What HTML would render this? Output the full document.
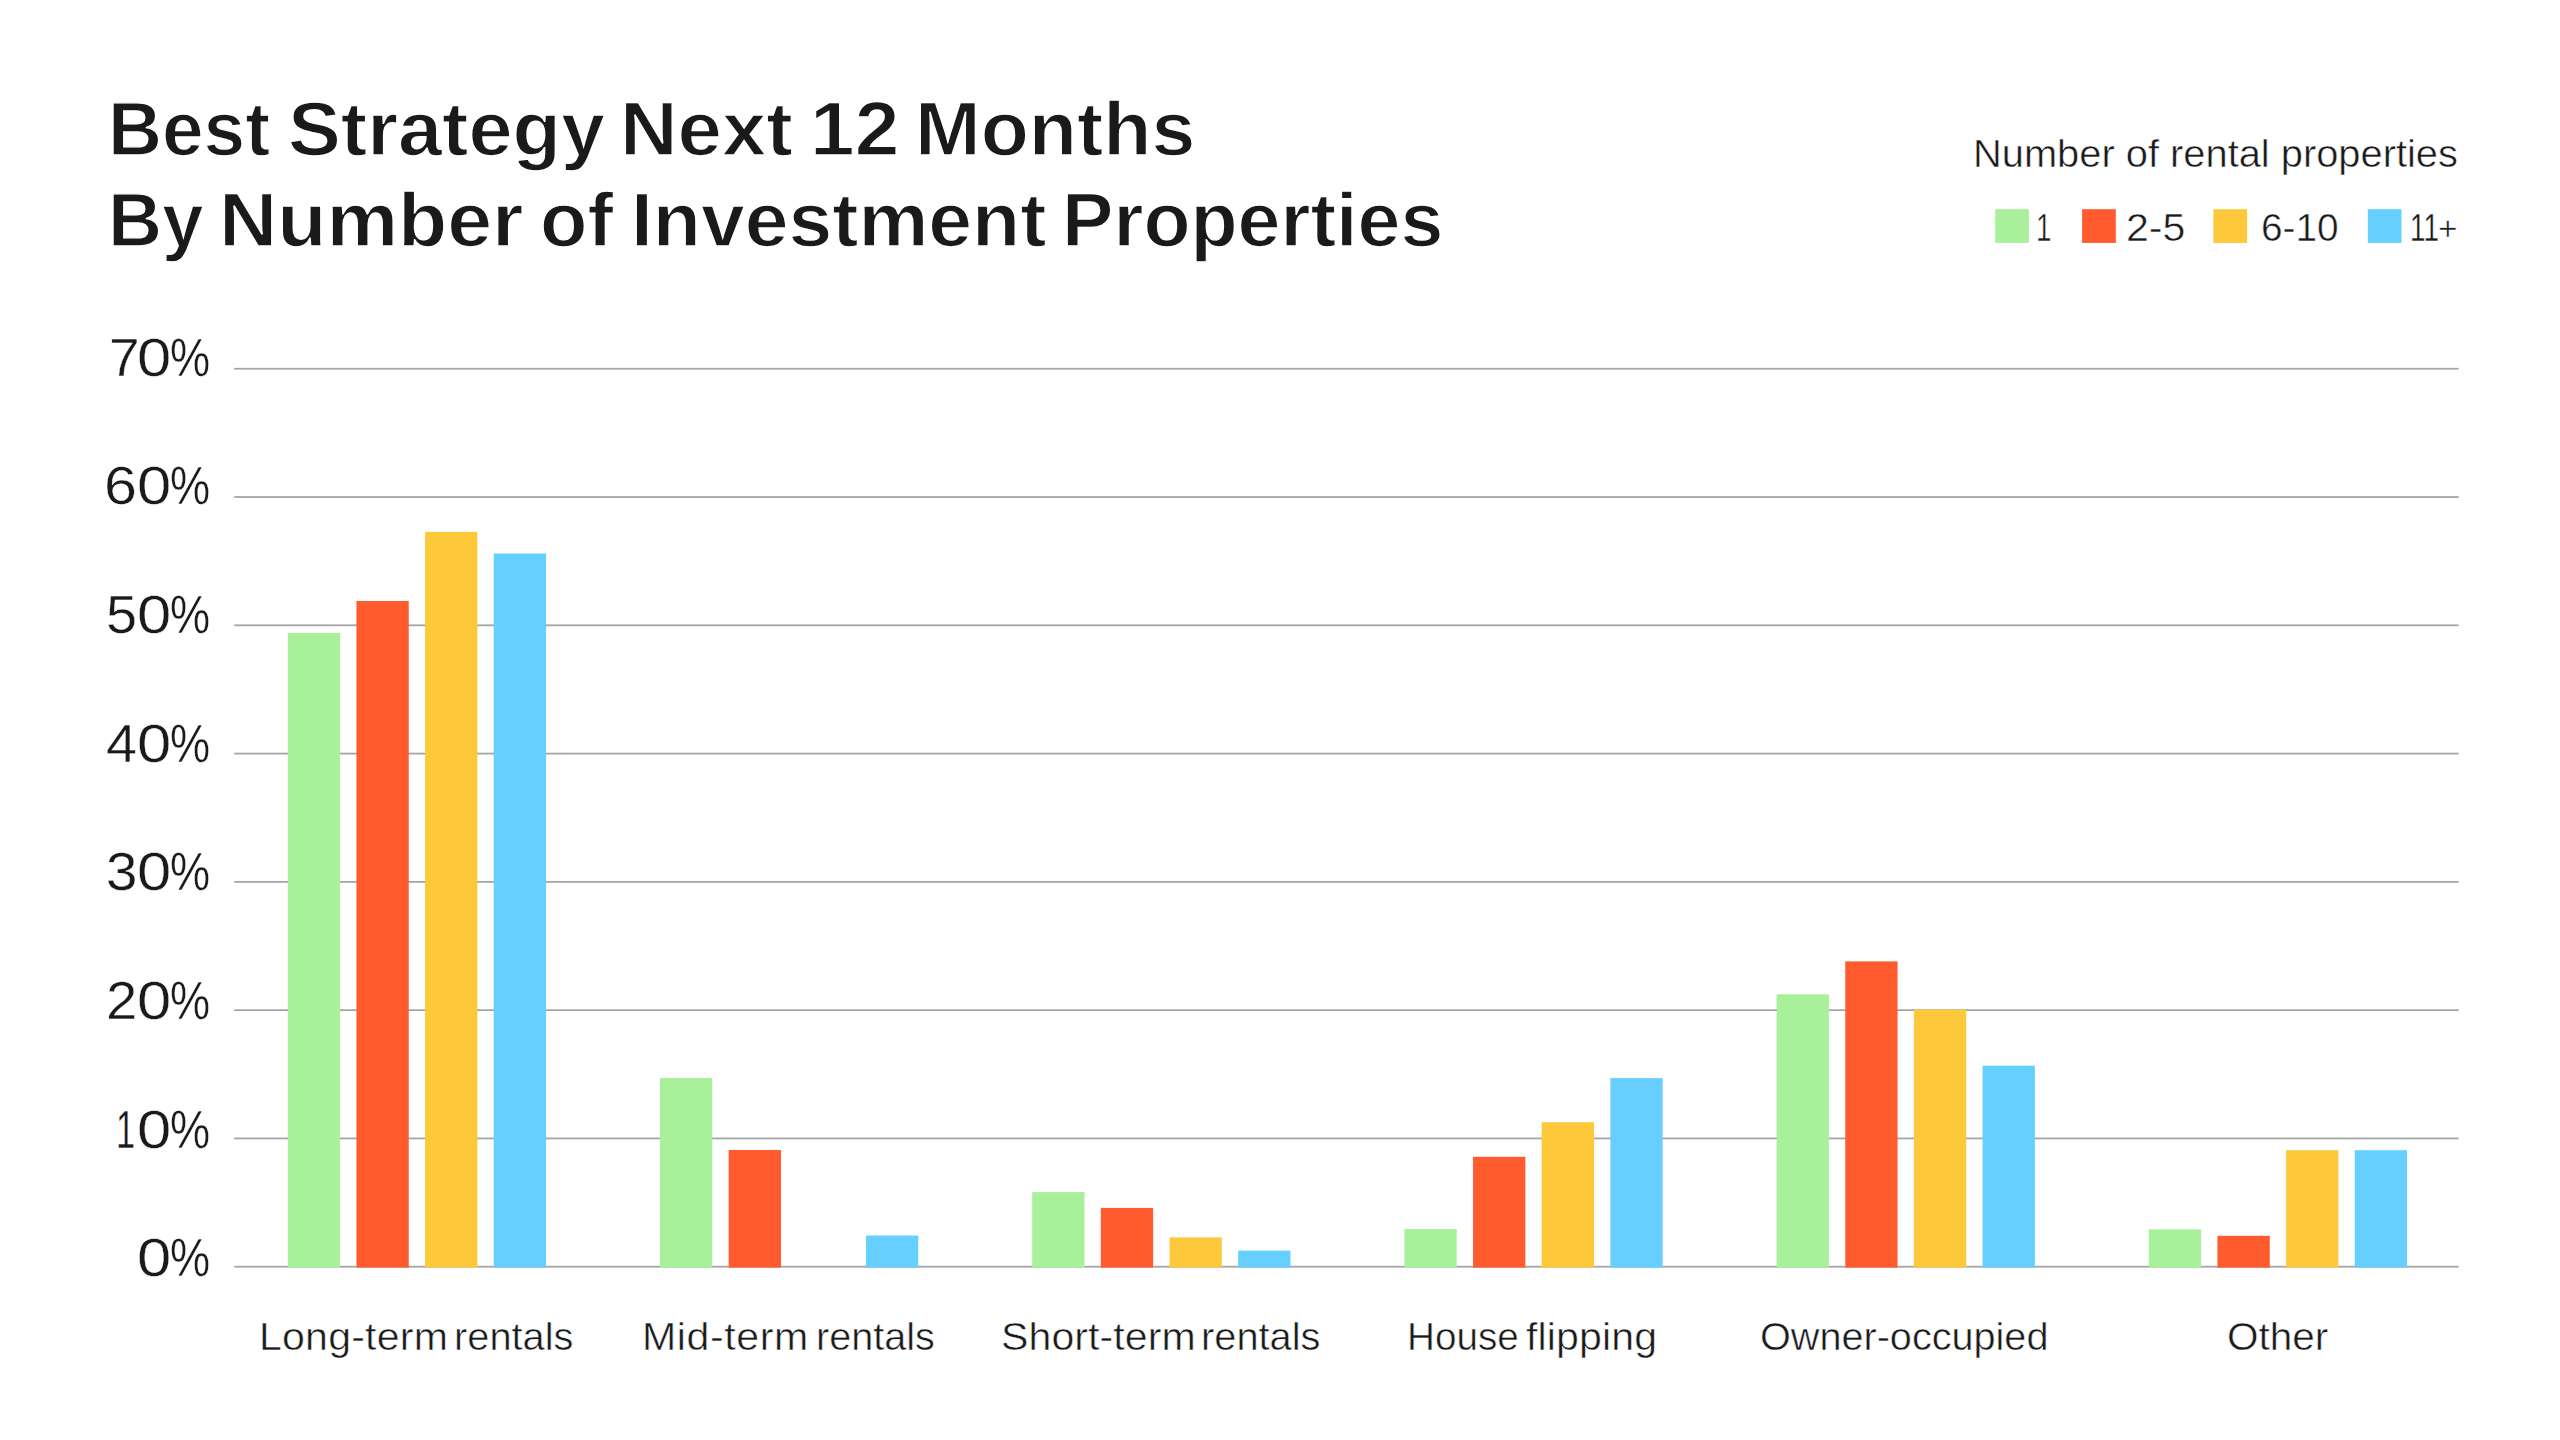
<!DOCTYPE html>
<html lang="en">
<head>
<meta charset="utf-8">
<title>Best Strategy Next 12 Months By Number of Investment Properties</title>
<style>
html,body{margin:0;padding:0;background:#fff;}
body{width:2560px;height:1440px;position:relative;overflow:hidden;font-family:"Liberation Sans",sans-serif;color:#1a1a1a;}
.t{position:absolute;display:block;white-space:nowrap;line-height:1;transform-origin:0 0;-webkit-text-stroke-color:#fff;}
.b{font-weight:bold;}
h1,p,ul,li{margin:0;padding:0;font-size:inherit;font-weight:inherit;list-style:none;}
svg{position:absolute;left:0;top:0;}
</style>
</head>
<body>
<svg width="2560" height="1440" viewBox="0 0 2560 1440" aria-hidden="true">
<g fill="#a5a5a5">
<rect x="234.2" y="367.85" width="2224.4" height="1.8"/>
<rect x="234.2" y="496.13" width="2224.4" height="1.8"/>
<rect x="234.2" y="624.41" width="2224.4" height="1.8"/>
<rect x="234.2" y="752.69" width="2224.4" height="1.8"/>
<rect x="234.2" y="880.97" width="2224.4" height="1.8"/>
<rect x="234.2" y="1009.25" width="2224.4" height="1.8"/>
<rect x="234.2" y="1137.53" width="2224.4" height="1.8"/>
<rect x="234.2" y="1265.81" width="2224.4" height="1.8"/>
</g>
<g fill="#a9f09b">
<rect x="1995.2" y="209.2" width="33.7" height="33.7"/>
<rect x="287.80" y="632.90" width="52.3" height="634.70"/>
<rect x="660.00" y="1078.00" width="52.3" height="189.60"/>
<rect x="1032.20" y="1192.10" width="52.3" height="75.50"/>
<rect x="1404.40" y="1229.10" width="52.3" height="38.50"/>
<rect x="1776.60" y="994.30" width="52.3" height="273.30"/>
<rect x="2148.80" y="1229.40" width="52.3" height="38.20"/>
</g>
<g fill="#ff5b2e">
<rect x="2082.1" y="209.2" width="33.7" height="33.7"/>
<rect x="356.45" y="601.00" width="52.3" height="666.60"/>
<rect x="728.65" y="1150.00" width="52.3" height="117.60"/>
<rect x="1100.85" y="1207.90" width="52.3" height="59.70"/>
<rect x="1473.05" y="1156.80" width="52.3" height="110.80"/>
<rect x="1845.25" y="961.40" width="52.3" height="306.20"/>
<rect x="2217.45" y="1235.80" width="52.3" height="31.80"/>
</g>
<g fill="#fdc93b">
<rect x="2213.4" y="209.2" width="33.7" height="33.7"/>
<rect x="425.10" y="531.90" width="52.3" height="735.70"/>
<rect x="1169.50" y="1237.40" width="52.3" height="30.20"/>
<rect x="1541.70" y="1122.20" width="52.3" height="145.40"/>
<rect x="1913.90" y="1009.50" width="52.3" height="258.10"/>
<rect x="2286.10" y="1150.20" width="52.3" height="117.40"/>
</g>
<g fill="#66cfff">
<rect x="2367.8" y="209.2" width="33.7" height="33.7"/>
<rect x="493.75" y="553.50" width="52.3" height="714.10"/>
<rect x="865.95" y="1235.50" width="52.3" height="32.10"/>
<rect x="1238.15" y="1250.60" width="52.3" height="17.00"/>
<rect x="1610.35" y="1078.10" width="52.3" height="189.50"/>
<rect x="1982.55" y="1065.70" width="52.3" height="201.90"/>
<rect x="2354.75" y="1150.20" width="52.3" height="117.40"/>
</g>
</svg>
<h1><span class="t b" style="left:107.74px;top:90.66px;font-size:76.5px;-webkit-text-stroke-width:1.4px;transform:scaleX(0.9772)">Best</span> <span class="t b" style="left:287.89px;top:90.66px;font-size:76.5px;-webkit-text-stroke-width:1.4px;transform:scaleX(1.0355)">Strategy</span> <span class="t b" style="left:620.45px;top:90.66px;font-size:76.5px;-webkit-text-stroke-width:1.4px;transform:scaleX(1.0424)">Next</span> <span class="t b" style="left:810.30px;top:90.66px;font-size:76.5px;-webkit-text-stroke-width:1.4px;transform:scaleX(1.0493)">12</span> <span class="t b" style="left:915.02px;top:90.66px;font-size:76.5px;-webkit-text-stroke-width:1.4px;transform:scaleX(1.0305)">Months</span>
<span class="t b" style="left:107.73px;top:181.66px;font-size:76.5px;-webkit-text-stroke-width:1.4px;transform:scaleX(0.9789)">By</span> <span class="t b" style="left:219.48px;top:181.66px;font-size:76.5px;-webkit-text-stroke-width:1.4px;transform:scaleX(1.0534)">Number</span> <span class="t b" style="left:539.94px;top:181.66px;font-size:76.5px;-webkit-text-stroke-width:1.4px;transform:scaleX(1.0147)">of</span> <span class="t b" style="left:630.63px;top:181.66px;font-size:76.5px;-webkit-text-stroke-width:1.4px;transform:scaleX(1.0285)">Investment</span> <span class="t b" style="left:1062.15px;top:181.66px;font-size:76.5px;-webkit-text-stroke-width:1.4px;transform:scaleX(1.0076)">Properties</span></h1>
<div class="legend"><p><span class="t" style="left:1972.78px;top:133.90px;font-size:39.7px;-webkit-text-stroke-width:0.5px;transform:scaleX(1.0038)">Number of rental properties</span></p>
<ul>
<li><span class="t" style="left:2036.30px;top:208.00px;font-size:39.7px;-webkit-text-stroke-width:0.5px;transform:scaleX(0.7000)">1</span></li>
<li><span class="t" style="left:2126.23px;top:208.00px;font-size:39.7px;-webkit-text-stroke-width:0.5px;transform:scaleX(1.0340)">2-5</span></li>
<li><span class="t" style="left:2260.95px;top:208.00px;font-size:39.7px;-webkit-text-stroke-width:0.5px;transform:scaleX(0.9773)">6-10</span></li>
<li><span class="t" style="left:2409.50px;top:207.90px;font-size:39.7px;-webkit-text-stroke-width:0.3px;transform:scaleX(0.7000)">11</span><span class="t" style="left:2438.12px;top:210.72px;font-size:34px;-webkit-text-stroke-width:0.5px;transform:scaleX(0.9875)">+</span></li>
</ul></div>
<ul class="yaxis">
<li><span class="t" style="left:109.11px;top:330.56px;font-size:53.6px;-webkit-text-stroke-width:0.4px;transform:scaleX(1.0292)">7</span><span class="t" style="left:136.76px;top:330.56px;font-size:53.6px;-webkit-text-stroke-width:0.4px;transform:scaleX(1.1496)">0</span><span class="t" style="left:170.22px;top:330.56px;font-size:53.6px;-webkit-text-stroke-width:0.4px;transform:scaleX(0.8419)">%</span></li>
<li><span class="t" style="left:104.29px;top:459.22px;font-size:53.6px;-webkit-text-stroke-width:0.4px;transform:scaleX(1.1042)">6</span><span class="t" style="left:136.76px;top:459.22px;font-size:53.6px;-webkit-text-stroke-width:0.4px;transform:scaleX(1.1496)">0</span><span class="t" style="left:170.22px;top:459.22px;font-size:53.6px;-webkit-text-stroke-width:0.4px;transform:scaleX(0.8419)">%</span></li>
<li><span class="t" style="left:106.17px;top:587.88px;font-size:53.6px;-webkit-text-stroke-width:0.4px;transform:scaleX(1.0417)">5</span><span class="t" style="left:136.76px;top:587.88px;font-size:53.6px;-webkit-text-stroke-width:0.4px;transform:scaleX(1.1496)">0</span><span class="t" style="left:170.22px;top:587.88px;font-size:53.6px;-webkit-text-stroke-width:0.4px;transform:scaleX(0.8419)">%</span></li>
<li><span class="t" style="left:105.92px;top:716.54px;font-size:53.6px;-webkit-text-stroke-width:0.4px;transform:scaleX(1.0385)">4</span><span class="t" style="left:136.76px;top:716.54px;font-size:53.6px;-webkit-text-stroke-width:0.4px;transform:scaleX(1.1496)">0</span><span class="t" style="left:170.22px;top:716.54px;font-size:53.6px;-webkit-text-stroke-width:0.4px;transform:scaleX(0.8419)">%</span></li>
<li><span class="t" style="left:105.54px;top:845.20px;font-size:53.6px;-webkit-text-stroke-width:0.4px;transform:scaleX(1.0542)">3</span><span class="t" style="left:136.76px;top:845.20px;font-size:53.6px;-webkit-text-stroke-width:0.4px;transform:scaleX(1.1496)">0</span><span class="t" style="left:170.22px;top:845.20px;font-size:53.6px;-webkit-text-stroke-width:0.4px;transform:scaleX(0.8419)">%</span></li>
<li><span class="t" style="left:106.15px;top:973.86px;font-size:53.6px;-webkit-text-stroke-width:0.4px;transform:scaleX(1.0500)">2</span><span class="t" style="left:136.76px;top:973.86px;font-size:53.6px;-webkit-text-stroke-width:0.4px;transform:scaleX(1.1496)">0</span><span class="t" style="left:170.22px;top:973.86px;font-size:53.6px;-webkit-text-stroke-width:0.4px;transform:scaleX(0.8419)">%</span></li>
<li><span class="t" style="left:115.54px;top:1102.52px;font-size:53.6px;-webkit-text-stroke-width:0.4px;transform:scaleX(0.6391)">1</span><span class="t" style="left:136.76px;top:1102.52px;font-size:53.6px;-webkit-text-stroke-width:0.4px;transform:scaleX(1.1496)">0</span><span class="t" style="left:170.22px;top:1102.52px;font-size:53.6px;-webkit-text-stroke-width:0.4px;transform:scaleX(0.8419)">%</span></li>
<li><span class="t" style="left:136.76px;top:1231.18px;font-size:53.6px;-webkit-text-stroke-width:0.4px;transform:scaleX(1.1496)">0</span><span class="t" style="left:170.22px;top:1231.18px;font-size:53.6px;-webkit-text-stroke-width:0.4px;transform:scaleX(0.8419)">%</span></li>
</ul>
<ul class="xaxis">
<li><span class="t" style="left:259.12px;top:1317.80px;font-size:38.4px;-webkit-text-stroke-width:0.5px;letter-spacing:0.192px;transform:scaleX(1.0700)">Long-term</span> <span class="t" style="left:453.59px;top:1317.80px;font-size:38.4px;-webkit-text-stroke-width:0.5px;transform:scaleX(1.0364)">rentals</span></li>
<li><span class="t" style="left:641.97px;top:1317.80px;font-size:38.4px;-webkit-text-stroke-width:0.5px;letter-spacing:0.561px;transform:scaleX(1.0700)">Mid-term</span> <span class="t" style="left:815.90px;top:1317.80px;font-size:38.4px;-webkit-text-stroke-width:0.5px;transform:scaleX(1.0318)">rentals</span></li>
<li><span class="t" style="left:1000.69px;top:1317.80px;font-size:38.4px;-webkit-text-stroke-width:0.5px;letter-spacing:0.078px;transform:scaleX(1.0700)">Short-term</span> <span class="t" style="left:1200.99px;top:1317.80px;font-size:38.4px;-webkit-text-stroke-width:0.5px;transform:scaleX(1.0364)">rentals</span></li>
<li><span class="t" style="left:1407.47px;top:1317.80px;font-size:38.4px;-webkit-text-stroke-width:0.5px;transform:scaleX(1.0071)">House</span> <span class="t" style="left:1526.18px;top:1317.80px;font-size:38.4px;-webkit-text-stroke-width:0.5px;letter-spacing:0.119px;transform:scaleX(1.0700)">flipping</span></li>
<li><span class="t" style="left:1760.44px;top:1317.80px;font-size:38.4px;-webkit-text-stroke-width:0.5px;transform:scaleX(1.0318)">Owner-occupied</span></li>
<li><span class="t" style="left:2226.64px;top:1317.80px;font-size:38.4px;-webkit-text-stroke-width:0.5px;transform:scaleX(1.0554)">Other</span></li>
</ul>
</body>
</html>
